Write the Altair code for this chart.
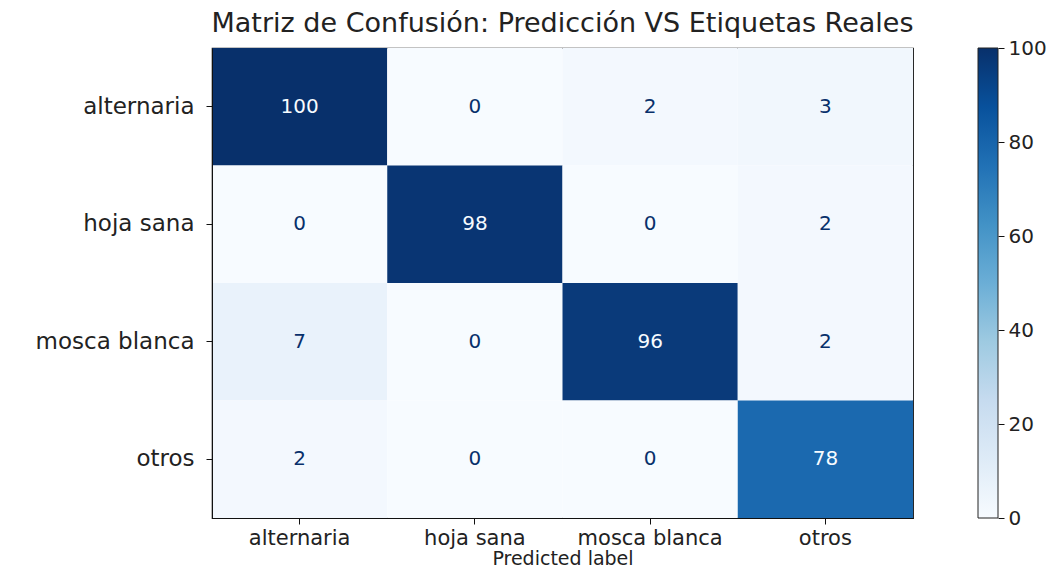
import altair as alt
import pandas as pd

labels = ["alternaria", "hoja sana", "mosca blanca", "otros"]
row_alternaria = [100, 0, 2, 3]
row_hoja_sana = [0, 98, 0, 2]
row_mosca_blanca = [7, 0, 96, 2]
row_otros = [2, 0, 0, 78]
rows = [row_alternaria, row_hoja_sana, row_mosca_blanca, row_otros]
colorbar_ticks = [0, 20, 40, 60, 80, 100]
colorbar_range = [0, 100]
blues = ["#f7fbff", "#deebf7", "#c6dbef", "#9ecae1", "#6baed6",
         "#4292c6", "#2171b5", "#08519c", "#08306b"]
blues_domain = [0, 12.5, 25, 37.5, 50, 62.5, 75, 87.5, 100]

records = []
for t, row in zip(labels, rows):
    for p, v in zip(labels, row):
        records.append({"true": t, "pred": p, "value": v})
df = pd.DataFrame(records)

PW, PH = 701, 470

base = alt.Chart(df).encode(
    x=alt.X("pred:N", sort=labels, title="Predicted label",
            axis=alt.Axis(labelAngle=0, labelFontSize=21, titleFontSize=19,
                          labelColor="#222", titleColor="#222", titleFontWeight="normal",
                          tickSize=6, labelPadding=3, titlePadding=1)),
    y=alt.Y("true:N", sort=labels, title=None,
            axis=alt.Axis(labelFontSize=23, labelColor="#222", tickSize=6, labelPadding=12)),
)

rect = base.mark_rect().encode(
    color=alt.Color("value:Q",
                    scale=alt.Scale(domain=blues_domain, range=blues),
                    legend=None)
)

text = base.mark_text(fontSize=20, font="DejaVu Sans").encode(
    text="value:Q",
    color=alt.condition("datum.value > 50", alt.value("#f7fbff"), alt.value("#08306b")),
)

heat = alt.layer(rect, text)

stops = [alt.GradientStop(color=c, offset=d / 100) for c, d in zip(blues, blues_domain)]
cb_df = pd.DataFrame({"lo": [colorbar_range[0]], "hi": [colorbar_range[1]]})
colorbar = alt.Chart(cb_df).mark_rect(
    fill=alt.LinearGradient(gradient="linear", stops=stops, x1=0, x2=0, y1=1, y2=0),
    stroke="#222", strokeWidth=1,
).encode(
    x=alt.value(PW + 65), x2=alt.value(PW + 85),
    y=alt.Y("lo:Q", scale=alt.Scale(domain=colorbar_range, nice=False, zero=False),
            title=None,
            axis=alt.Axis(orient="right", offset=85, values=colorbar_ticks, domain=False,
                          tickSize=6, tickColor="#111", labelFontSize=20, labelColor="#222",
                          labelPadding=4, grid=False)),
    y2="hi:Q",
)

chart = alt.layer(heat, colorbar).resolve_scale(y="independent").properties(
    width=PW, height=PH,
    title=alt.TitleParams("Matriz de Confusión: Predicción VS Etiquetas Reales",
                          fontSize=27, fontWeight="normal", color="#222",
                          font="DejaVu Sans", anchor="middle", offset=0),
    autosize=alt.AutoSizeParams(type="none"),
    padding={"left": 204, "top": 40, "right": 141, "bottom": 50},
).configure(font="DejaVu Sans").configure_view(
    stroke="#111", strokeWidth=1.2
).configure_axis(
    domainColor="#111", tickColor="#111", grid=False
)

chart.save("out.html", embed_options={"renderer": "svg", "actions": False})
